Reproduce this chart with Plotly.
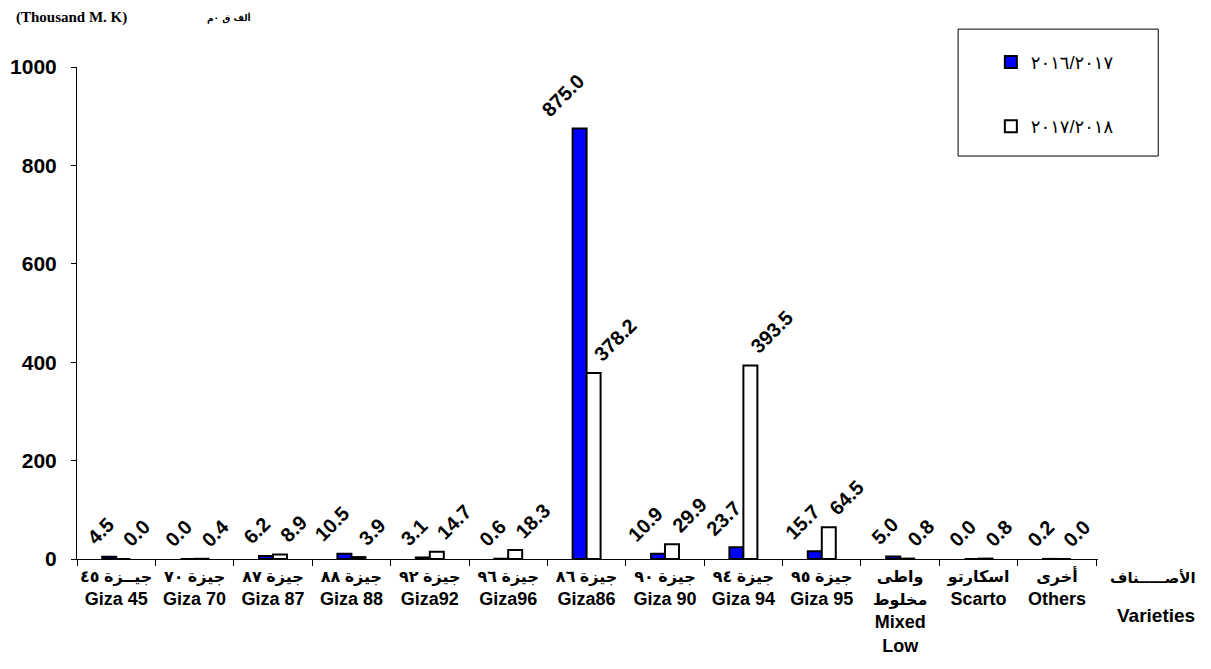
import plotly.graph_objects as go

arabic_names = [
    "جيــزة ٤٥", "جيزة ٧٠", "جيزة ٨٧", "جيزة ٨٨", "جيزة ٩٢", "جيزة ٩٦",
    "جيزة ٨٦", "جيزة ٩٠", "جيزة ٩٤", "جيزة ٩٥", "واطى<br>مخلوط", "اسكارتو", "أخرى",
]
english_names = [
    "Giza 45", "Giza 70", "Giza 87", "Giza 88", "Giza92", "Giza96",
    "Giza86", "Giza 90", "Giza 94", "Giza 95", "Mixed<br>Low", "Scarto", "Others",
]
series_2016 = [4.5, 0.0, 6.2, 10.5, 3.1, 0.6, 875.0, 10.9, 23.7, 15.7, 5.0, 0.0, 0.2]
series_2017 = [0.0, 0.4, 8.9, 3.9, 14.7, 18.3, 378.2, 29.9, 393.5, 64.5, 0.8, 0.8, 0.0]
name_2016 = "٢٠١٦/٢٠١٧"
name_2017 = "٢٠١٧/٢٠١٨"
y_ticks = [0, 200, 400, 600, 800, 1000]

categories = [a + "<br>" + e for a, e in zip(arabic_names, english_names)]
tick_text = ["<b><span style='font-size:16px'>" + a.replace("<br>", "</span><br><span style='font-size:16px'>")
             + "</span><br>" + e + "</b>" for a, e in zip(arabic_names, english_names)]

bold = "Liberation Sans, Arial, DejaVu Sans, sans-serif"

fig = go.Figure()
fig.add_trace(go.Bar(
    x=categories, y=series_2016, name=name_2016, legendgroup="a",
    marker=dict(color="#0000FF", line=dict(color="black", width=2)),
))
fig.add_trace(go.Bar(
    x=categories, y=series_2017, name=name_2017, legendgroup="b",
    marker=dict(color="white", line=dict(color="black", width=2)),
))

annotations = []
for c, v in zip(categories, series_2016):
    annotations.append(dict(
        x=c, y=v, xref="x", yref="y", text="<b>%.1f</b>" % v, showarrow=False,
        textangle=-45, xanchor="right", yanchor="bottom", xshift=5, yshift=5,
        font=dict(family=bold, size=20, color="black")))
for c, v in zip(categories, series_2017):
    annotations.append(dict(
        x=c, y=v, xref="x", yref="y", text="<b>%.1f</b>" % v, showarrow=False,
        textangle=-45, xanchor="left", yanchor="bottom", xshift=0, yshift=5,
        font=dict(family=bold, size=20, color="black")))

annotations += [
    dict(text="<b>(Thousand M. K)</b>", xref="paper", yref="paper",
         x=-0.0617, y=1.0996, xanchor="left", yanchor="middle", showarrow=False,
         font=dict(family="Liberation Serif, Times New Roman, serif", size=15, color="black")),
    dict(text="<b>ألف ق ٠م</b>", xref="paper", yref="paper",
         x=0.125, y=1.0996, xanchor="left", yanchor="middle", showarrow=False,
         font=dict(family="DejaVu Sans, sans-serif", size=9, color="black")),
    dict(text="<b>الأصـــــناف</b>", xref="paper", yref="paper",
         x=1.054, y=-0.038, xanchor="center", yanchor="middle", showarrow=False,
         font=dict(family=bold, size=15, color="black")),
    dict(text="<b>Varieties</b>", xref="paper", yref="paper",
         x=1.057, y=-0.114, xanchor="center", yanchor="middle", showarrow=False,
         font=dict(family=bold, size=19, color="black")),
]

fig.update_layout(
    width=1203, height=661,
    margin=dict(l=69, r=113, t=59, b=110, autoexpand=False),
    plot_bgcolor="white", paper_bgcolor="white",
    barmode="group", bargap=0.643, bargroupgap=0,
    font=dict(family=bold, color="black"),
    showlegend=True,
    legend=dict(
        xref="container", yref="container",
        x=0.817, y=0.946, xanchor="left", yanchor="top",
        bgcolor="rgba(0,0,0,0)", borderwidth=0,
        font=dict(family=bold, size=18, color="black"),
        tracegroupgap=38, traceorder="grouped",
    ),
    xaxis=dict(
        showline=True, linecolor="black", linewidth=1, automargin=False,
        ticks="outside", tickson="boundaries", ticklen=6, tickcolor="black",
        tickfont=dict(family=bold, size=18, color="black"),
        tickvals=categories, ticktext=tick_text,
        showgrid=False, tickangle=0,
    ),
    yaxis=dict(
        range=[0, 1000], tickvals=y_ticks, ticktext=["<b>%d</b>" % v for v in y_ticks],
        showline=True, linecolor="black", linewidth=1, automargin=False,
        ticks="outside", ticklen=5, tickcolor="black", ticklabelstandoff=10,
        tickfont=dict(family=bold, size=21, color="black"),
        showgrid=False, zeroline=False,
    ),
    shapes=[dict(
        type="rect", xref="paper", yref="paper",
        x0=0.863, x1=1.059, y0=0.819, y1=1.077,
        line=dict(color="black", width=1), fillcolor="rgba(0,0,0,0)",
    )],
    annotations=annotations,
)

fig.write_html("out.html")
